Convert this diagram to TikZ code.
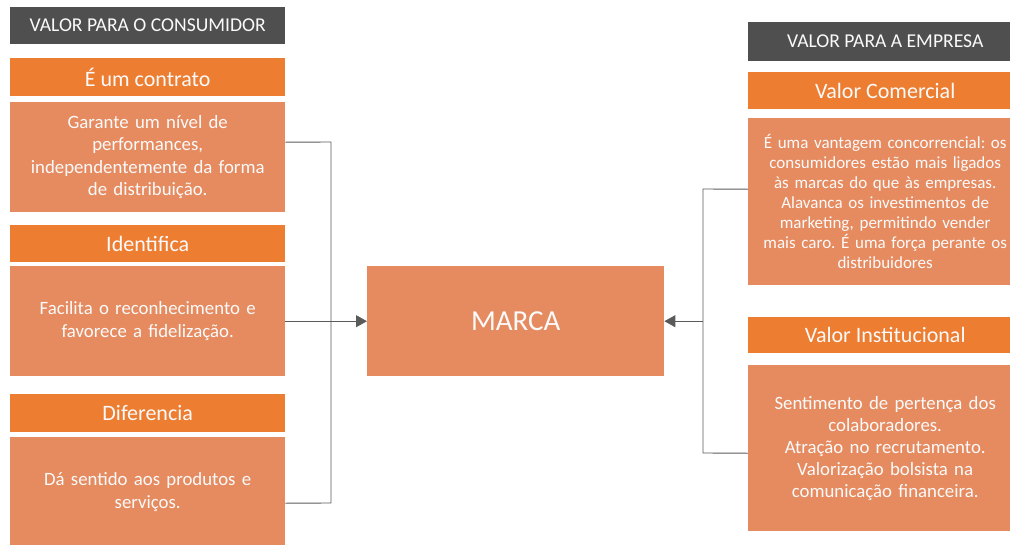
\documentclass[tikz,border=0pt]{standalone}
\usepackage{fontspec}
\setmainfont{Carlito}
\usetikzlibrary{arrows.meta}
\definecolor{dk}{HTML}{4F4F4F}
\definecolor{hd}{HTML}{ED7D31}
\definecolor{bd}{HTML}{E68B60}
\definecolor{ln}{HTML}{5A5A5A}
\definecolor{tx}{HTML}{FAFAFA}
\frenchspacing
\begin{document}
\begin{tikzpicture}[x=1pt,y=-1pt,
  basebox/.style={rectangle, inner sep=0pt, anchor=north west, align=center, text=tx},
  darkhead/.style={basebox, fill=dk, font=\fontsize{19.6}{23}\selectfont},
  orghead/.style={basebox, fill=hd, font=\fontsize{22}{26}\selectfont},
  bodybox/.style={basebox, fill=bd, font=\fontsize{18.8}{22.5}\selectfont},
  conn/.style={draw=ln, line width=0.9pt},
  tip/.style={-{Triangle[length=11pt,width=12pt]}}
]
\useasboundingbox (0,0) rectangle (1010,544);
\clip (0,0) rectangle (1010,544);
% left column
\node[darkhead, minimum width=275, minimum height=37] (hL) at (10,7) {VALOR PARA O CONSUMIDOR};
\node[orghead, minimum width=275, minimum height=38] (c1) at (10,58) {É um contrato};
\node[bodybox, minimum width=275, minimum height=110, text width=260] (b1) at (10,102) {Garante um nível de\\ performances,\\ independentemente da forma\\ de distribuição.};
\node[orghead, minimum width=275, minimum height=37] (c2) at (10,225) {Identifica};
\node[bodybox, minimum width=275, minimum height=110, text width=260] (b2) at (10,266) {Facilita o reconhecimento e\\ favorece a fidelização.};
\node[orghead, minimum width=275, minimum height=38] (c3) at (10,394) {Diferencia};
\node[bodybox, minimum width=275, minimum height=110, text width=260] (b3) at (10,437) {Dá sentido aos produtos e\\ serviços.};
% centre
\node[basebox, fill=bd, minimum width=297, minimum height=110, font=\fontsize{29}{34}\selectfont] (marca) at (367,266) {MARCA};
% right column
\node[darkhead, minimum width=274, minimum height=39] (hR) at (748,22) {VALOR PARA A EMPRESA};
\node[orghead, minimum width=274, minimum height=37] (r1) at (748,72) {Valor Comercial};
\node[bodybox, minimum width=274, minimum height=167, text width=262, font=\fontsize{17}{20}\selectfont] (rb1) at (748,118) {É uma vantagem concorrencial: os\\ consumidores estão mais ligados\\ às marcas do que às empresas.\\ Alavanca os investimentos de\\ marketing, permitindo vender\\ mais caro. É uma força perante os\\ distribuidores};
\node[orghead, minimum width=274, minimum height=36] (r2) at (748,317) {Valor Institucional};
\node[bodybox, minimum width=274, minimum height=166, text width=262, font=\fontsize{18.8}{22}\selectfont] (rb2) at (748,365) {Sentimento de pertença dos\\ colaboradores.\\ Atração no recrutamento.\\ Valorização bolsista na\\ comunicação financeira.};
% bus coordinates
\coordinate (lt) at (331,142);
\coordinate (lb) at (331,503);
\coordinate (rt) at (703,189);
\coordinate (rb) at (703,453);
% left connectors
\draw[conn] ([yshift=15pt]b1.east) -- (lt) -- (lb) -- ([yshift=-11pt]b3.east);
\draw[conn, tip] (b2.east) -- (marca.west);
% right connectors
\draw[conn] ([yshift=12.5pt]rb1.west) -- (rt) -- (rb) -- ([yshift=-5pt]rb2.west);
\draw[conn, tip] (rt |- marca.east) -- (marca.east);
\end{tikzpicture}
\end{document}
